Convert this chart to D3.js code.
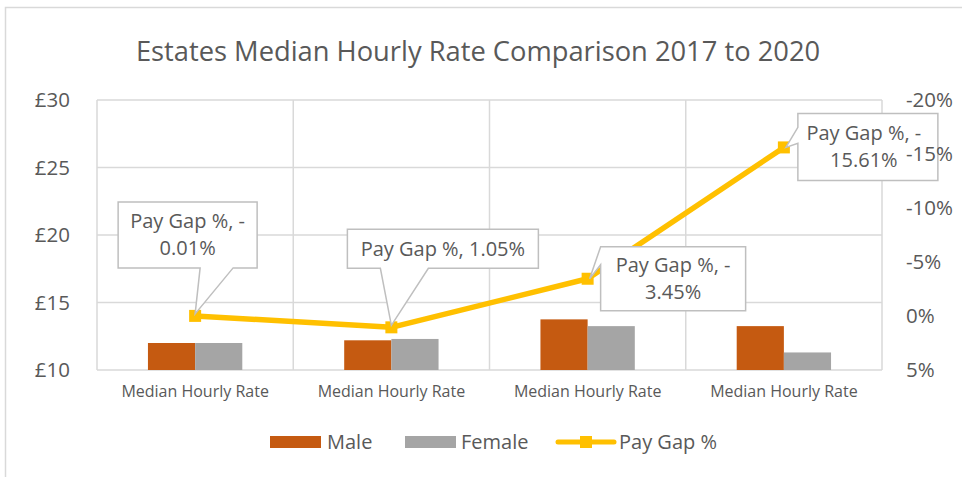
<!DOCTYPE html>
<html>
<head>
<meta charset="utf-8">
<script src="https://cdn.jsdelivr.net/npm/d3@7"></script>
<style>
  body { margin: 0; background: #fff; }
  text { font-family: "Open Sans", sans-serif; fill: #595959; }
</style>
</head>
<body>
<svg id="chart" width="962" height="477"></svg>
<script>
var width = 962,
    height = 477;

// data
var years = ["2017", "2018", "2019", "2020"];
var categoryLabels = ["Median Hourly Rate", "Median Hourly Rate", "Median Hourly Rate", "Median Hourly Rate"];
var male = [12.0, 12.2, 13.75, 13.25];
var female = [12.0, 12.3, 13.25, 11.3];
var payGap = [-0.01, 1.05, -3.45, -15.61];
var gapLabels = [["Pay Gap %, -", "0.01%"], ["Pay Gap %, 1.05%"], ["Pay Gap %, -", "3.45%"], ["Pay Gap %, -", "15.61%"]];
var leftTicks = [10, 15, 20, 25, 30];
var rightTicks = [-20, -15, -10, -5, 0, 5];

// callout boxes, relative to the point: [dx, dy, w, h, side, base start, base end]
var callouts = [
    [-77, -114, 139, 66, "bottom", 5, 38],
    [-44, -98, 191, 39, "bottom", -11, 37],
    [13, -32, 145, 64, "left", 0, 18],
    [14, -34, 140, 67, "left", 14, 30]
];

var margin = {left: 97, right: 80, top: 100, bottom: 107};

var svg = d3.select("#chart");

// frame of the chart area
svg.append("path")
    .attr("d", "M5.5," + height + "V7.5H" + width)
    .attr("fill", "none")
    .attr("stroke", "#d9d9d9")
    .attr("stroke-width", 1.5);

svg.append("text")
    .attr("x", 478)
    .attr("y", 61)
    .attr("text-anchor", "middle")
    .style("font-size", "27.3px")
    .text("Estates Median Hourly Rate Comparison 2017 to 2020");

var xScale = d3.scaleBand()
    .domain(years)
    .range([margin.left, width - margin.right]);

var barScale = d3.scaleBand()
    .domain(["male", "female"])
    .range([0, xScale.bandwidth()])
    .paddingOuter(1.08)
    .paddingInner(0);

var yScale = d3.scaleLinear()
    .domain([10, 30])
    .range([height - margin.bottom, margin.top]);

var gapScale = d3.scaleLinear()
    .domain([5, -20])
    .range([height - margin.bottom, margin.top]);

// gridlines
svg.append("g")
    .selectAll("line")
    .data(leftTicks)
    .enter().append("line")
    .attr("x1", margin.left)
    .attr("x2", width - margin.right)
    .attr("y1", (d) => yScale(d))
    .attr("y2", (d) => yScale(d))
    .attr("stroke", "#d9d9d9")
    .attr("stroke-width", 1.5);

svg.append("g")
    .selectAll("line")
    .data(years.concat(["end"]))
    .enter().append("line")
    .attr("x1", (d, i) => margin.left + i * xScale.bandwidth())
    .attr("x2", (d, i) => margin.left + i * xScale.bandwidth())
    .attr("y1", margin.top)
    .attr("y2", height - margin.bottom)
    .attr("stroke", "#d9d9d9")
    .attr("stroke-width", 1.5);

// axes
var leftAxis = d3.axisLeft(yScale)
    .tickValues(leftTicks)
    .tickSize(0)
    .tickPadding(27)
    .tickFormat((d) => "£" + d);
var gL = svg.append("g")
    .attr("transform", "translate(" + margin.left + ",0)")
    .call(leftAxis);
gL.select(".domain").remove();
gL.selectAll("text").style("font-size", "20.5px").attr("fill", "#595959");

var bottomAxis = d3.axisBottom(xScale)
    .tickSize(0)
    .tickPadding(16)
    .tickFormat((d, i) => categoryLabels[i]);
var gB = svg.append("g")
    .attr("transform", "translate(0," + (height - margin.bottom) + ")")
    .call(bottomAxis);
gB.select(".domain").remove();
gB.selectAll("text").style("font-size", "16px").attr("fill", "#595959");

// bars
var groups = svg.append("g")
    .selectAll("g")
    .data(years)
    .enter().append("g")
    .attr("transform", (d) => "translate(" + xScale(d) + ",0)");

groups.append("rect")
    .attr("x", barScale("male"))
    .attr("width", barScale.bandwidth())
    .attr("y", (d, i) => yScale(male[i]))
    .attr("height", (d, i) => yScale(10) - yScale(male[i]))
    .attr("fill", "#c55a11");

groups.append("rect")
    .attr("x", barScale("female"))
    .attr("width", barScale.bandwidth())
    .attr("y", (d, i) => yScale(female[i]))
    .attr("height", (d, i) => yScale(10) - yScale(female[i]))
    .attr("fill", "#a5a5a5");

// pay gap line
var points = years.map((d, i) => [xScale(d) + xScale.bandwidth() / 2, gapScale(payGap[i])]);

svg.append("path")
    .datum(points)
    .attr("d", d3.line())
    .attr("fill", "none")
    .attr("stroke", "#ffc000")
    .attr("stroke-width", 5.5)
    .attr("stroke-linejoin", "round");

svg.append("g")
    .selectAll("rect")
    .data(points)
    .enter().append("rect")
    .attr("x", (d) => d[0] - 6)
    .attr("y", (d) => d[1] - 6)
    .attr("width", 12)
    .attr("height", 12)
    .attr("fill", "#ffc000");

// callouts
var calloutPath = (p, c) => {
    var x0 = p[0] + c[0], y0 = p[1] + c[1], x1 = x0 + c[2], y1 = y0 + c[3];
    if (c[4] == "bottom") {
        return "M" + x0 + "," + y0 + "H" + x1 + "V" + y1 + "H" + (p[0] + c[6]) +
            "L" + p[0] + "," + (p[1] - 2) + "L" + (p[0] + c[5]) + "," + y1 + "H" + x0 + "Z";
    }
    return "M" + x0 + "," + y0 + "H" + x1 + "V" + y1 + "H" + x0 + "V" + (y0 + c[6]) +
        "L" + (p[0] + 2) + "," + p[1] + "L" + x0 + "," + (y0 + c[5]) + "Z";
};

var labels = svg.append("g")
    .selectAll("g")
    .data(points)
    .enter().append("g");

labels.append("path")
    .attr("d", (d, i) => calloutPath(d, callouts[i]))
    .attr("fill", "#fff")
    .attr("stroke", "#bfbfbf")
    .attr("stroke-width", 1.5);

labels.each(function(d, i) {
    var c = callouts[i];
    var lines = gapLabels[i];
    var cx = d[0] + c[0] + c[2] / 2;
    var cy = d[1] + c[1] + c[3] / 2;
    var t = d3.select(this).append("text")
        .attr("text-anchor", "middle")
        .style("font-size", "20px");
    lines.forEach((s, j) => {
        t.append("tspan")
            .attr("x", cx - (i == 3 ? 4 : 0))
            .attr("y", cy + 7 + (j - (lines.length - 1) / 2) * 27)
            .text(s);
    });
});

// right axis drawn over the callouts, as in the original
var rightAxis = d3.axisRight(gapScale)
    .tickValues(rightTicks)
    .tickSize(0)
    .tickPadding(24)
    .tickFormat((d) => d + "%");
var gR = svg.append("g")
    .attr("transform", "translate(" + (width - margin.right) + ",0)")
    .call(rightAxis);
gR.select(".domain").remove();
gR.selectAll("text").style("font-size", "20.5px").attr("fill", "#595959");

// legend
var legend = svg.append("g").attr("transform", "translate(0,442)");
legend.append("rect").attr("x", 270).attr("y", -6).attr("width", 51).attr("height", 12).attr("fill", "#c55a11");
legend.append("text").attr("x", 327).attr("y", 7).style("font-size", "20px").text("Male");
legend.append("rect").attr("x", 405).attr("y", -6).attr("width", 51).attr("height", 12).attr("fill", "#a5a5a5");
legend.append("text").attr("x", 461).attr("y", 7).style("font-size", "20px").text("Female");
legend.append("line").attr("x1", 558).attr("x2", 614).attr("stroke", "#ffc000").attr("stroke-width", 5).attr("stroke-linecap", "round");
legend.append("rect").attr("x", 580).attr("y", -6).attr("width", 12).attr("height", 12).attr("fill", "#ffc000");
legend.append("text").attr("x", 619).attr("y", 7).style("font-size", "20px").text("Pay Gap %");
</script>
</body>
</html>
